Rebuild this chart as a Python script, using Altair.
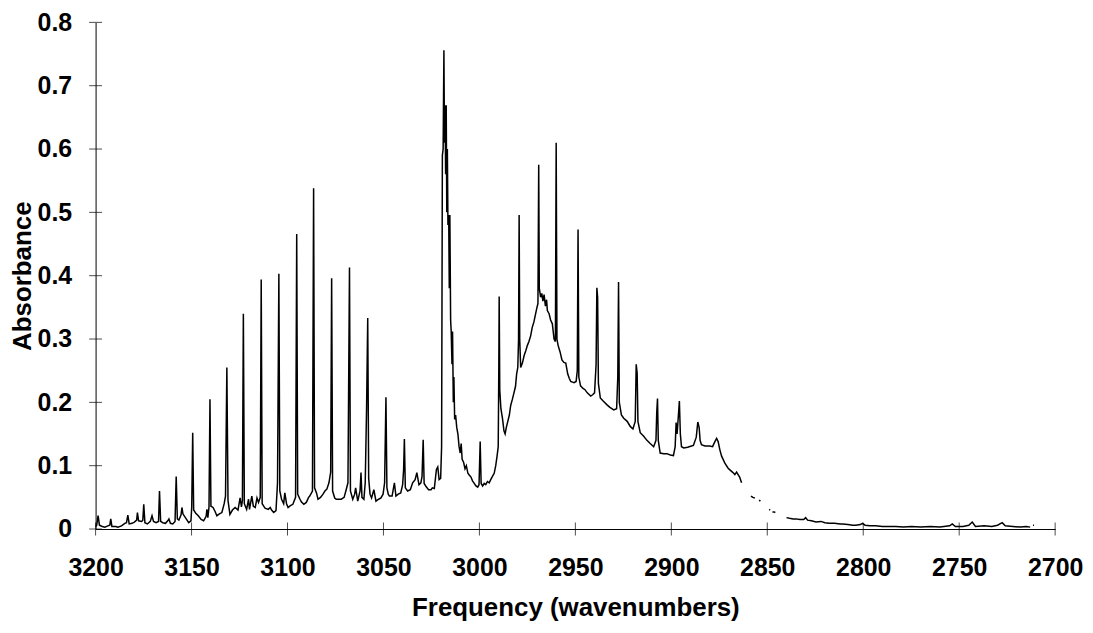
import altair as alt
import pandas as pd

# Spectrum (wavenumber in cm-1, absorbance); None marks a gap in the trace
wavenumber = [
    3200.0, 3199.4, 3198.7, 3198.0, 3196.5, 3195.2, 3193.6, 3192.6, 3192.1, 3191.5,
    3189.5, 3188.4, 3186.5, 3184.8, 3183.9, 3183.2, 3182.5, 3181.0, 3179.8, 3178.6,
    3178.2, 3177.6, 3176.0, 3175.4, 3174.9, 3174.3, 3173.0, 3171.5, 3170.6, 3169.8,
    3168.5, 3167.2, 3166.7, 3166.1, 3165.0, 3163.6, 3162.4, 3161.8, 3161.0, 3159.8,
    3158.6, 3158.0, 3157.4, 3156.6, 3155.5, 3155.0, 3154.5, 3153.2, 3151.5, 3150.3,
    3149.9, 3149.4, 3148.9, 3147.8, 3146.5, 3145.0, 3143.7, 3142.4, 3142.0, 3141.5,
    3140.9, 3140.4, 3139.9, 3138.8, 3137.8, 3136.8, 3135.5, 3134.2, 3133.0, 3132.3,
    3131.6, 3131.0, 3130.0, 3128.7, 3127.3, 3125.8, 3124.7, 3124.0, 3123.5, 3123.0,
    3122.5, 3121.3, 3120.3, 3119.8, 3118.6, 3117.8, 3116.8, 3115.9, 3115.1, 3114.2,
    3113.7, 3113.2, 3112.4, 3111.7, 3110.0, 3109.0, 3108.3, 3107.2, 3106.0, 3105.2,
    3104.5, 3104.0, 3103.1, 3102.0, 3101.4, 3100.5, 3099.7, 3098.5, 3097.2, 3095.8,
    3095.2, 3094.7, 3093.5, 3092.8, 3091.5, 3090.2, 3089.0, 3088.4, 3087.0, 3086.4,
    3085.9, 3084.9, 3084.1, 3082.8, 3081.5, 3080.5, 3079.5, 3078.4, 3077.5, 3077.0,
    3076.5, 3075.4, 3074.6, 3072.0, 3070.5, 3069.6, 3068.5, 3067.7, 3067.2, 3066.0,
    3065.0, 3064.5, 3063.4, 3062.2, 3061.7, 3061.2, 3060.2, 3059.5, 3058.8, 3058.2,
    3057.7, 3057.0, 3056.2, 3055.0, 3053.9, 3052.5, 3051.3, 3050.2, 3049.4, 3048.7,
    3048.2, 3047.5, 3046.9, 3045.5, 3044.3, 3043.5, 3042.3, 3041.0, 3040.0, 3039.5,
    3039.1, 3038.6, 3037.4, 3036.0, 3034.8, 3033.5, 3032.6, 3031.5, 3030.5, 3029.9,
    3029.3, 3028.8, 3027.8, 3026.5, 3025.2, 3024.5, 3023.5, 3022.4, 3021.7, 3021.0,
    3020.2, 3019.7, 3019.3, 3018.9, 3018.5, 3018.2, 3017.9, 3017.6, 3017.3, 3017.0,
    3016.7, 3016.4, 3016.0, 3015.7, 3015.4, 3015.0, 3014.7, 3014.3, 3014.0, 3013.6,
    3013.3, 3012.9, 3012.4, 3011.8, 3011.2, 3010.6, 3010.0, 3009.5, 3009.0, 3008.2,
    3007.5, 3006.8, 3006.0, 3005.2, 3004.4, 3003.6, 3002.7, 3001.8, 3000.9, 3000.2,
    2999.6, 2999.1, 2998.3, 2997.5, 2996.7, 2995.8, 2994.9, 2994.1, 2993.2, 2992.3,
    2991.5, 2990.8, 2990.2, 2989.9, 2989.7, 2989.4, 2988.8, 2988.0, 2987.2, 2986.6,
    2986.0, 2985.2, 2984.4, 2983.7, 2982.8, 2982.0, 2981.2, 2980.6, 2980.0, 2979.6,
    2979.3, 2979.0, 2978.5, 2977.6, 2976.7, 2975.8, 2975.0, 2974.2, 2973.3, 2972.5,
    2971.6, 2970.7, 2970.0, 2969.5, 2969.1, 2968.8, 2968.1, 2967.5, 2966.9, 2966.3,
    2965.6, 2965.0, 2964.6, 2963.7, 2962.9, 2962.0, 2961.1, 2960.4, 2960.0, 2959.6,
    2959.0, 2958.0, 2957.0, 2956.0, 2955.0, 2954.0, 2953.2, 2952.4, 2951.5, 2950.7,
    2949.6, 2949.0, 2948.6, 2948.2, 2947.3, 2946.0, 2945.0, 2943.8, 2942.0, 2941.0,
    2940.0, 2939.2, 2938.8, 2938.4, 2938.0, 2937.0, 2935.5, 2933.5, 2932.0, 2930.0,
    2928.5, 2927.9, 2927.5, 2927.1, 2926.0, 2924.8, 2923.0, 2921.4, 2920.0, 2918.8,
    2918.3, 2917.8, 2917.4, 2916.2, 2914.5, 2912.7, 2911.0, 2909.2, 2908.0, 2907.6,
    2907.2, 2906.8, 2905.8, 2904.0, 2902.3, 2900.5, 2898.9, 2898.0, 2897.5, 2897.0,
    2896.3, 2895.8, 2895.3, 2894.7, 2893.5, 2891.5, 2889.5, 2888.5, 2887.0, 2886.2,
    2885.5, 2885.0, 2884.3, 2882.5, 2880.0, 2878.5, 2877.3, 2876.4, 2875.6, 2874.7,
    2873.8, 2872.1, 2870.4, 2868.6, 2867.5, 2866.9, 2866.0, 2865.2, 2864.4, 2863.4,
    None,
    2858.5, 2857.5, 2856.5,
    None,
    2854.2, 2853.6,
    None,
    2849.0, 2848.5,
    None,
    2847.3, 2846.5, 2845.8,
    None,
    2840.0, 2838.4, 2836.5, 2835.0, 2833.0, 2831.0, 2830.0, 2829.0, 2827.0, 2824.6,
    2822.0, 2820.0, 2817.7, 2815.0, 2812.0, 2810.8, 2808.0, 2805.5, 2803.9, 2801.5,
    2800.4, 2799.0, 2796.5, 2793.5, 2790.0, 2786.0, 2783.1, 2779.0, 2775.0, 2770.0,
    2765.0, 2760.0, 2755.0, 2753.6, 2752.0, 2748.0, 2745.0, 2743.2, 2741.5, 2737.0,
    2733.0, 2730.0, 2727.6, 2726.0, 2722.0, 2718.0, 2715.0, 2713.0,
    None,
    2711.5, 2711.0,
]

absorbance = [
    0.004, 0.006, 0.021, 0.006, 0.004, 0.003, 0.005, 0.006, 0.016, 0.004,
    0.004, 0.003, 0.005, 0.009, 0.010, 0.022, 0.008, 0.009, 0.011, 0.014,
    0.026, 0.013, 0.012, 0.014, 0.039, 0.010, 0.008, 0.012, 0.021, 0.012,
    0.010, 0.012, 0.060, 0.012, 0.010, 0.009, 0.013, 0.016, 0.009, 0.008,
    0.012, 0.083, 0.016, 0.014, 0.022, 0.034, 0.024, 0.018, 0.010, 0.013,
    0.035, 0.152, 0.030, 0.025, 0.021, 0.015, 0.013, 0.020, 0.031, 0.018,
    0.035, 0.205, 0.036, 0.034, 0.028, 0.021, 0.024, 0.026, 0.040, 0.052,
    0.255, 0.045, 0.023, 0.030, 0.034, 0.030, 0.049, 0.035, 0.045, 0.340,
    0.040, 0.031, 0.047, 0.031, 0.052, 0.036, 0.034, 0.049, 0.042, 0.050,
    0.394, 0.040, 0.036, 0.033, 0.031, 0.034, 0.030, 0.026, 0.029, 0.073,
    0.403, 0.060, 0.047, 0.040, 0.057, 0.040, 0.034, 0.037, 0.039, 0.050,
    0.466, 0.055, 0.047, 0.043, 0.039, 0.042, 0.050, 0.052, 0.060, 0.538,
    0.065, 0.057, 0.047, 0.050, 0.055, 0.060, 0.063, 0.073, 0.090, 0.396,
    0.060, 0.049, 0.047, 0.047, 0.050, 0.060, 0.073, 0.413, 0.060, 0.047,
    0.055, 0.065, 0.044, 0.060, 0.089, 0.050, 0.047, 0.073, 0.190, 0.333,
    0.080, 0.055, 0.049, 0.062, 0.044, 0.047, 0.049, 0.055, 0.073, 0.208,
    0.065, 0.055, 0.052, 0.052, 0.073, 0.052, 0.055, 0.057, 0.070, 0.094,
    0.142, 0.065, 0.060, 0.062, 0.073, 0.078, 0.089, 0.070, 0.073, 0.083,
    0.141, 0.072, 0.067, 0.062, 0.062, 0.065, 0.064, 0.094, 0.098, 0.078,
    0.080, 0.130, 0.590, 0.600, 0.756, 0.610, 0.669, 0.560, 0.669, 0.500,
    0.600, 0.480, 0.496, 0.380, 0.496, 0.330, 0.312, 0.260, 0.312, 0.200,
    0.240, 0.173, 0.180, 0.160, 0.150, 0.130, 0.120, 0.135, 0.110, 0.105,
    0.095, 0.100, 0.088, 0.085, 0.082, 0.076, 0.072, 0.068, 0.066, 0.070,
    0.138, 0.072, 0.068, 0.072, 0.070, 0.075, 0.073, 0.078, 0.083, 0.088,
    0.100, 0.115, 0.130, 0.250, 0.367, 0.220, 0.190, 0.175, 0.155, 0.150,
    0.160, 0.170, 0.180, 0.195, 0.205, 0.215, 0.225, 0.245, 0.255, 0.300,
    0.496, 0.300, 0.255, 0.262, 0.274, 0.282, 0.290, 0.296, 0.305, 0.318,
    0.327, 0.340, 0.350, 0.356, 0.575, 0.380, 0.366, 0.372, 0.360, 0.370,
    0.352, 0.362, 0.345, 0.340, 0.330, 0.324, 0.300, 0.296, 0.610, 0.300,
    0.290, 0.280, 0.267, 0.263, 0.262, 0.245, 0.238, 0.233, 0.232, 0.231,
    0.233, 0.250, 0.473, 0.240, 0.226, 0.222, 0.220, 0.215, 0.210, 0.212,
    0.215, 0.260, 0.381, 0.366, 0.230, 0.207, 0.202, 0.196, 0.192, 0.188,
    0.190, 0.240, 0.390, 0.200, 0.180, 0.175, 0.170, 0.162, 0.158, 0.170,
    0.260, 0.246, 0.170, 0.152, 0.147, 0.140, 0.135, 0.130, 0.140, 0.184,
    0.206, 0.140, 0.120, 0.119, 0.119, 0.117, 0.116, 0.130, 0.168, 0.150,
    0.180, 0.202, 0.150, 0.130, 0.128, 0.129, 0.131, 0.132, 0.145, 0.169,
    0.160, 0.140, 0.133, 0.131, 0.131, 0.130, 0.138, 0.143, 0.138, 0.125,
    0.115, 0.104, 0.096, 0.091, 0.088, 0.086, 0.090, 0.086, 0.082, 0.073,
    None,
    0.052, 0.050, 0.049,
    None,
    0.046, 0.044,
    None,
    0.031, 0.030,
    None,
    0.027, 0.027, 0.026,
    None,
    0.018, 0.017, 0.016, 0.016, 0.015, 0.015, 0.018, 0.014, 0.013, 0.011,
    0.012, 0.010, 0.009, 0.009, 0.008, 0.008, 0.007, 0.006, 0.006, 0.007,
    0.009, 0.006, 0.005, 0.005, 0.004, 0.004, 0.004, 0.003, 0.004, 0.003,
    0.004, 0.003, 0.005, 0.008, 0.004, 0.004, 0.006, 0.011, 0.004, 0.005,
    0.004, 0.006, 0.010, 0.005, 0.004, 0.003, 0.004, 0.003,
    None,
    0.006, 0.006,
]

x_ticks = [3200, 3150, 3100, 3050, 3000, 2950, 2900, 2850, 2800, 2750, 2700]
y_ticks = [0, 0.1, 0.2, 0.3, 0.4, 0.5, 0.6, 0.7, 0.8]

rows = []
seg = 0
for w, a in zip(wavenumber, absorbance):
    if w is None or a is None:
        seg += 1
        continue
    rows.append({"wn": w, "abs": a, "seg": seg})
spec = pd.DataFrame(rows)

FONT = "Liberation Sans"
xscale = alt.Scale(domain=[2700, 3200], reverse=True, nice=False, zero=False)
yscale = alt.Scale(domain=[0, 0.8], nice=False)

x_axis = alt.Axis(
    values=x_ticks, format="d", ticks=False, grid=False,
    domainColor="black", domainWidth=1,
    labelFont=FONT, labelFontSize=25, labelFontWeight="bold", labelColor="black",
    labelPadding=27, labelFlush=False, labelOverlap=False,
    title="Frequency (wavenumbers)", titleFont=FONT, titleFontSize=26,
    titleFontWeight="bold", titleColor="black", titlePadding=14,
)
y_axis = alt.Axis(
    values=y_ticks, format=".1~f", ticks=False, grid=False,
    domainColor="black", domainWidth=1,
    labelFont=FONT, labelFontSize=25, labelFontWeight="bold", labelColor="black",
    labelPadding=24, labelFlush=False, labelOverlap=False,
    title="Absorbance", titleFont=FONT, titleFontSize=26,
    titleFontWeight="bold", titleColor="black", titlePadding=2,
)

line = alt.Chart(spec).mark_line(color="black", strokeWidth=1.5).encode(
    x=alt.X("wn:Q", scale=xscale, axis=x_axis),
    y=alt.Y("abs:Q", scale=yscale, axis=y_axis),
    detail="seg:N",
)

xt = alt.Chart(pd.DataFrame({"wn": x_ticks, "abs": [0] * len(x_ticks)})).mark_tick(
    orient="vertical", size=13, thickness=1, color="black"
).encode(x=alt.X("wn:Q", scale=xscale), y=alt.Y("abs:Q", scale=yscale))

yt = alt.Chart(pd.DataFrame({"wn": [3200] * len(y_ticks), "abs": y_ticks})).mark_tick(
    orient="horizontal", size=13, thickness=1, color="black"
).encode(x=alt.X("wn:Q", scale=xscale), y=alt.Y("abs:Q", scale=yscale))

chart = alt.layer(line, xt, yt).properties(
    width=964, height=509,
    autosize=alt.AutoSizeParams(type="none"),
    padding={"left": 88, "top": 13, "right": 30, "bottom": 95},
    background="white",
).configure_view(stroke=None)

chart.save("out.html", embed_options={"renderer": "svg", "actions": False})
